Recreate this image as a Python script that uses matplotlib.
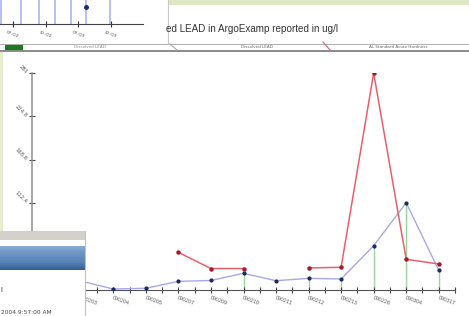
import numpy as np
import matplotlib.pyplot as plt
from matplotlib.patches import Rectangle
from matplotlib.colors import LinearSegmentedColormap

# sample dates (x axis) and the two series
dates = ['090202', '090203', '090204', '090205', '090207', '090209', '090210',
         '090211', '090212', '090213', '090226', '090304', '090317']
dissolved = [9, 11, 0.6, 1.6, 10.6, 11.7, 21, 11.4, 14.5, 13.6, 56.8, 112.6, 24.9]
standard = [np.nan, np.nan, np.nan, np.nan, 48.2, 27.2, 27.2, np.nan, 28, 28.8, 281, 39.2, 33.1]
stem_idx = [6, 8, 9, 10, 11, 12]
yticks = [0, 56.2, 112.4, 168.6, 224.8, 281]

# little chart in the window at the top left
mini_labels = ['07-Q2', '12-Q2', '07-Q3', '12-Q3']
mini_lines = [-0.37, 0.23, 0.79, 1.28, 1.79, 2.23, 2.97]
mini_dot = (2.23, 0.71)

W, H = 469, 316


def px_axes(fig, x0, y0, x1, y1, **kw):
    return fig.add_axes([x0 / W, 1 - y1 / H, (x1 - x0) / W, (y1 - y0) / H], **kw)


fig = plt.figure(figsize=(W / 100, H / 100), dpi=100)
fig.patch.set_facecolor('white')

# background: bits of the screenshot around the chart
bg = px_axes(fig, 0, 0, W, H)
bg.set_xlim(0, W)
bg.set_ylim(H, 0)
bg.axis('off')
bg.add_patch(Rectangle((168, 0), W - 168, 5, color='#dfe6c2', lw=0))
bg.add_patch(Rectangle((0, 51), 2.7, 180, color='#e8edd2', lw=0))
bg.plot([168, 168], [0, 43], color='#c8c8c8', lw=0.8)
bg.plot([0, W], [43.5, 43.5], color='#b0b0b0', lw=0.7)
bg.plot([0, W], [50.8, 50.8], color='#8a8a8a', lw=1.4)
bg.add_patch(Rectangle((5, 44), 18, 6.5, color='#1f7a1f', lw=0))
bg.plot([170, 177], [44, 50], color='#a0a0a0', lw=0.7)
bg.plot([323, 330], [42, 50], color='#d86070', lw=0.8)
bg.text(166, 32, 'ed LEAD in ArgoExamp reported in ug/l', fontsize=7.1,
        family='Liberation Sans', color='#333333', va='baseline')
bg.text(90, 47.5, 'Dissolved LEAD', fontsize=3, color='#888888', ha='center', va='center')
bg.text(257, 47.5, 'Dissolved LEAD', fontsize=3, color='#666666', ha='center', va='center')
bg.text(398, 47.5, 'AL Standard Acute Hardness', fontsize=3, color='#666666', ha='center', va='center')

# mini chart
mini = px_axes(fig, 0, 0, 143, 24)
mini.set_xlim(-0.4, 3.99)
mini.set_ylim(0, 1)
mini.vlines(mini_lines, 0, 1.2, color='#b8bef8', lw=1.4)
mini.plot(*mini_dot, 'o', color='#1a2a7a', ms=2.5)
mini.set_xticks(range(len(mini_labels)))
mini.set_xticklabels(mini_labels, rotation=-20, fontsize=3.2, color='#555555')
mini.tick_params(axis='x', direction='inout', length=4, width=0.8, color='#333333', pad=2)
mini.set_yticks([])
for s in ['left', 'right', 'top']:
    mini.spines[s].set_visible(False)
mini.spines['bottom'].set_color('#444444')
mini.patch.set_alpha(0)

# main chart
ax = px_axes(fig, 32, 73, 455, 289.5)
x = np.arange(len(dates))
ax.vlines([x[i] for i in stem_idx], 0, [dissolved[i] for i in stem_idx],
          color='#9ad69a', lw=1, zorder=1)
ax.plot(x, dissolved, '-', color='#a8a8e6', lw=1, zorder=2)
ax.plot(x, dissolved, 'o', color='#1a2a5a', ms=2.0, zorder=4)
ax.plot(x, standard, '-', color='#e8606c', lw=1.1, zorder=3)
ax.plot(x, standard, 'o', color='#a8182a', ms=2.2, zorder=5)
ax.set_xlim(-0.5, 12.5)
ax.set_ylim(0, 281)
ax.set_yticks(yticks)
ax.set_yticklabels([str(v) for v in yticks], rotation=-45, fontsize=3.8,
                   color='#555555', rotation_mode='anchor', ha='right', va='center')
ax.set_xticks(x)
ax.set_xticks(x + 0.5, minor=True)
ax.set_xticklabels(dates, rotation=-20, fontsize=3.4, color='#555555',
                   rotation_mode='anchor', ha='left', va='top')
ax.tick_params(axis='both', which='both', direction='inout', length=4,
               width=0.8, color='#444444', pad=2)
ax.spines['right'].set_visible(False)
ax.spines['top'].set_visible(False)
ax.spines['left'].set_color('#909090')
ax.spines['bottom'].set_color('#555555')
ax.spines['left'].set_linewidth(1.1)
ax.patch.set_alpha(0)

# foreground: the window over the bottom left corner
fg = px_axes(fig, 0, 0, W, H)
fg.set_xlim(0, W)
fg.set_ylim(H, 0)
fg.axis('off')
fg.add_patch(Rectangle((0, 231), 85, 85, color='white', lw=0, zorder=1))
fg.add_patch(Rectangle((0, 231), 85, 9, color='#d2d2ca', lw=0, zorder=2))
grad = LinearSegmentedColormap.from_list('bar', ['#88aad4', '#6a92c2', '#5a84b8', '#2f5f94'])
fg.imshow(np.linspace(0, 1, 50).reshape(-1, 1), cmap=grad, aspect='auto',
          extent=(0, 85, 270, 246), zorder=3)
fg.plot([85, 85], [231, 316], color='#c0c0c0', lw=0.8, zorder=4)
fg.text(0.5, 290, 'I', fontsize=5, color='#333333', va='center', zorder=4)
fg.text(1, 312, '2004 9:57:00 AM', fontsize=4.2, color='#444444', va='center', zorder=4)
fg.set_xlim(0, W)
fg.set_ylim(H, 0)

fig.savefig('out.png', dpi=100)
